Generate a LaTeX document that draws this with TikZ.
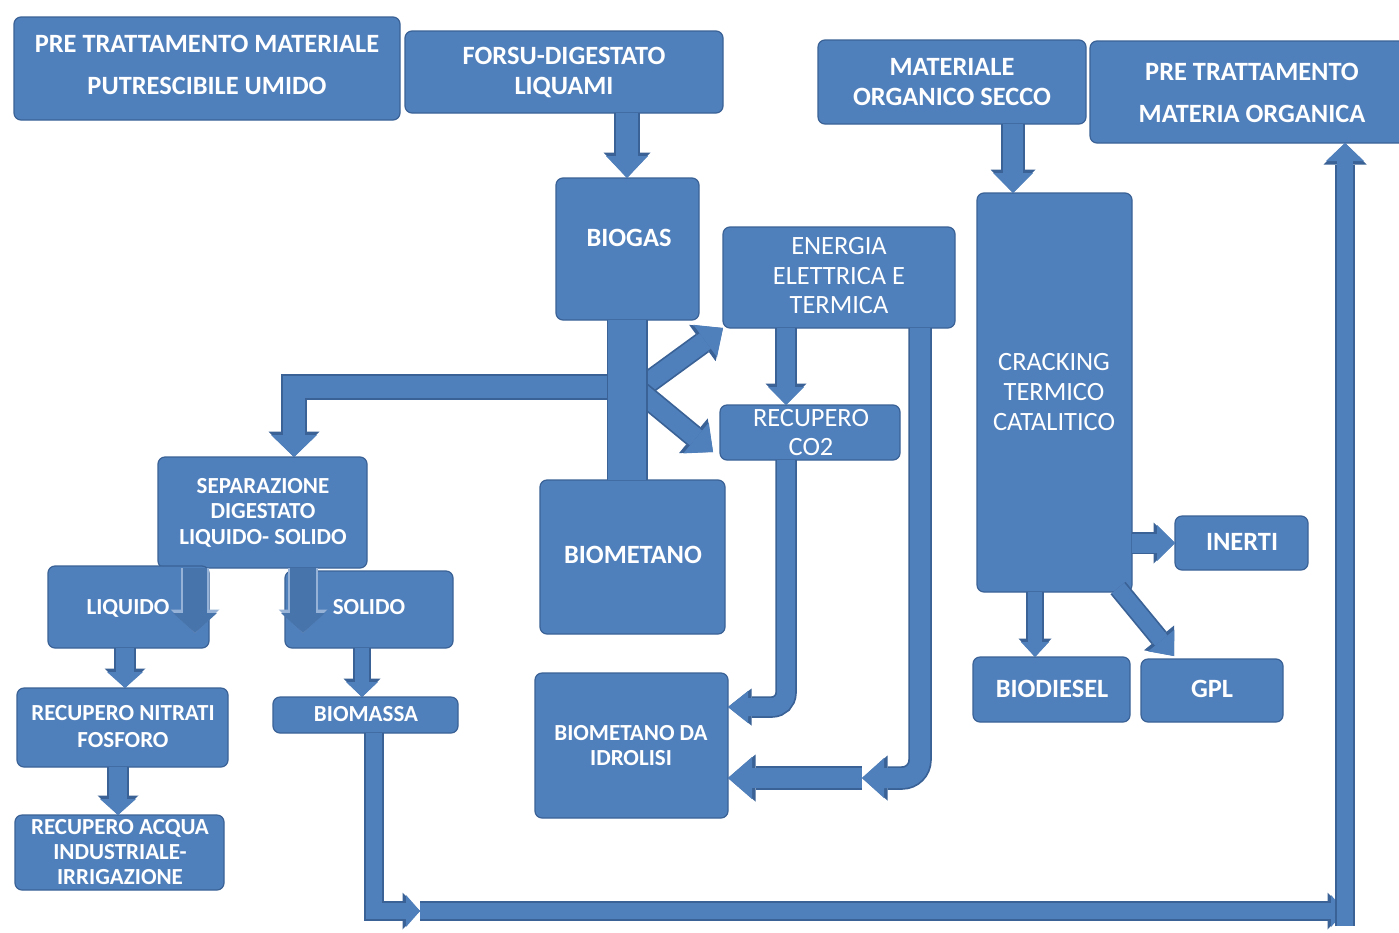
\documentclass[tikz,border=0pt]{standalone}
\usepackage{fontspec}
\setmainfont{Carlito}
\usetikzlibrary{arrows.meta}
\definecolor{bx}{RGB}{80,128,188}
\definecolor{bxd}{RGB}{58,98,150}
\definecolor{bxl}{RGB}{150,178,214}
\definecolor{bxm}{RGB}{72,116,172}
\def\bkOc{bxd}
\def\bkFc{bx}
\begin{document}
\begin{tikzpicture}[x=1pt,y=-1pt,
  box/.style={draw=bxd, line width=1.2pt, fill=bx, rounded corners=7pt, anchor=north west, inner sep=0pt, outer sep=0pt},
  lb/.style={text=white, inner sep=0pt, anchor=base, font=\fontsize{26.4}{30}\selectfont\bfseries, yshift=-8.5pt},
  lbs/.style={text=white, inner sep=0pt, anchor=base, font=\fontsize{23}{26}\selectfont\bfseries, yshift=-7.4pt},
  lr/.style={text=white, inner sep=0pt, anchor=base, font=\fontsize{26.4}{30}\selectfont, yshift=-8.5pt},
  bar/.style={line width=38pt, draw=bx, preaction={draw=bxd, line width=41pt}},
  overlay arrow/.code={\def\bkOc{bxl}\def\bkFc{bxm}},
  blk/.code n args={3}{%
    \pgfmathsetmacro\bkW{#1}%
    \pgfmathsetmacro\bkH{#2}%
    \pgfmathsetmacro\bkL{#3}%
    \pgfmathsetmacro\bkWo{#1+3.5}%
    \pgfmathsetmacro\bkHo{#2+5}%
    \pgfmathsetmacro\bkLo{#3+3.5}%
    \tikzset{line width=\bkW pt, draw=\bkFc, line join=miter,
      -{Triangle[length=\bkL pt, width=\bkH pt, line width=0pt, color=\bkFc]},
      preaction={draw=\bkOc, line width=\bkWo pt,
        -{Triangle[length=\bkLo pt, width=\bkHo pt, line width=0pt, color=\bkOc]}}}}
]
\useasboundingbox (0,0) rectangle (1399,932);
\fill[white] (0,0) rectangle (1399,932);

% ---------- boxes ----------
\node[box, minimum width=386pt, minimum height=103pt] (pre1) at (14,17) {};
\node[box, minimum width=318pt, minimum height=82pt] (forsu) at (405,31) {};
\node[box, minimum width=268pt, minimum height=84pt] (mat) at (818,40) {};
\node[box, minimum width=330pt, minimum height=102pt] (pre2) at (1090,41) {};
\node[box, minimum width=143pt, minimum height=142pt] (biogas) at (556,178) {};
\node[box, minimum width=232pt, minimum height=101pt] (energia) at (723,227) {};
\node[box, minimum width=180pt, minimum height=55pt] (co2) at (720,405) {};
\node[box, minimum width=209pt, minimum height=111pt] (sep) at (158,457) {};
\node[box, minimum width=185pt, minimum height=154pt] (biomet) at (540,480) {};
\node[box, minimum width=161pt, minimum height=82pt] (liq) at (48,566) {};
\node[box, minimum width=168pt, minimum height=77pt] (sol) at (285,571) {};
\node[box, minimum width=211pt, minimum height=79pt] (nitr) at (17,688) {};
\node[box, minimum width=185pt, minimum height=36pt] (biomassa) at (273,697) {};
\node[box, minimum width=209pt, minimum height=75pt] (acqua) at (15,815) {};
\node[box, minimum width=193pt, minimum height=145pt] (idro) at (535,673) {};
\node[box, minimum width=155pt, minimum height=399pt] (crack) at (977,193) {};
\node[box, minimum width=133pt, minimum height=54pt] (inerti) at (1175,516) {};
\node[box, minimum width=157pt, minimum height=65pt] (biodiesel) at (973,657) {};
\node[box, minimum width=142pt, minimum height=63pt] (gpl) at (1141,659) {};

% ---------- texts ----------
\node[lb] (t1a) at (207,44) {PRE TRATTAMENTO MATERIALE};
\node[lb] (t1b) at (207,86) {PUTRESCIBILE UMIDO};
\node[lb] (t2a) at (564,56) {FORSU-DIGESTATO};
\node[lb] (t2b) at (564,86) {LIQUAMI};
\node[lb] (t3a) at (952,67) {MATERIALE};
\node[lb] (t3b) at (952,97) {ORGANICO SECCO};
\node[lb] (t4a) at (1252,72) {PRE TRATTAMENTO};
\node[lb] (t4b) at (1252,114) {MATERIA ORGANICA};
\node[lb] (t5) at (629,238) {BIOGAS};
\node[lr] (t6a) at (839,246) {ENERGIA};
\node[lr] (t6b) at (839,276) {ELETTRICA E};
\node[lr] (t6c) at (839,305) {TERMICA};
\node[lr] (t7a) at (811,418) {RECUPERO};
\node[lr] (t7b) at (811,447) {CO2};
\node[lbs] (t8a) at (263,486) {SEPARAZIONE};
\node[lbs] (t8b) at (263,511) {DIGESTATO};
\node[lbs] (t8c) at (263,537) {LIQUIDO- SOLIDO};
\node[lb] (t9) at (633,555) {BIOMETANO};
\node[lbs] (t10) at (128,607) {LIQUIDO};
\node[lbs] (t11) at (369,607) {SOLIDO};
\node[lbs] (t12a) at (123,713) {RECUPERO NITRATI};
\node[lbs] (t12b) at (123,740) {FOSFORO};
\node[lbs] (t13) at (366,714) {BIOMASSA};
\node[lbs] (t14a) at (120,827) {RECUPERO ACQUA};
\node[lbs] (t14b) at (120,852) {INDUSTRIALE-};
\node[lbs] (t14c) at (120,877) {IRRIGAZIONE};
\node[lbs] (t15a) at (631,733) {BIOMETANO DA};
\node[lbs] (t15b) at (631,758) {IDROLISI};
\node[lr] (t16a) at (1054,362) {CRACKING};
\node[lr] (t16b) at (1054,392) {TERMICO};
\node[lr] (t16c) at (1054,422) {CATALITICO};
\node[lb] (t17) at (1242,542) {INERTI};
\node[lb] (t18) at (1052,689) {BIODIESEL};
\node[lb] (t19) at (1212,689) {GPL};

% ---------- helper coordinates ----------
\coordinate (xa) at (627,0);
\coordinate (xb) at (1013,0);
\coordinate (j) at (627,387);
\coordinate (xc) at (294,0);
\coordinate (j2) at (638,390);
\coordinate (cd) at (713,452);
\coordinate (xd) at (786,0);
\coordinate (ye) at (0,707);
\coordinate (xf) at (920,0);
\coordinate (yf) at (0,778);
\coordinate (mh) at (862,778);
\coordinate (xg) at (195,0);
\coordinate (xh) at (303,0);
\coordinate (yg) at (0,633);
\coordinate (xi) at (125,0);
\coordinate (xj) at (362,0);
\coordinate (xk) at (118,0);
\coordinate (yl) at (0,543);
\coordinate (xm) at (1035,0);
\coordinate (gs) at (1118,588);
\coordinate (ge) at (1174,656);
\coordinate (xn) at (374,0);
\coordinate (bm) at (420,911);
\coordinate (br) at (1345,911);
\coordinate (xo) at (1345,0);
\coordinate (bb) at (1345,926);

% ---------- connectors ----------
\draw[blk={22}{42}{22}] (forsu.south -| xa) -- (biogas.north -| xa);
\draw[blk={20}{40}{20}] (mat.south -| xb) -- (crack.north -| xb);

\draw[blk={22}{46}{22}] (j) -| (sep.north -| xc);
\draw[blk={19}{40}{22}] (j2) -- (energia.south west);
\draw[blk={19}{40}{22}] (j2) -- (cd);
\draw[bar] (biogas.south -| xa) -- (biomet.north -| xa);

\draw[blk={18}{36}{18}] (energia.south -| xd) -- (co2.north -| xd);
\draw[blk={18}{32}{20}, rounded corners=14pt] (co2.south -| xd) |- (idro.east |- ye);
\draw[blk={20}{40}{22}, rounded corners=18pt] (energia.south -| xf) |- (mh);
\draw[blk={20}{42}{24}] (mh) -- (idro.east |- yf);

\draw[overlay arrow, blk={24}{44}{20}] (sep.south -| xg) -- (xg |- yg);
\draw[overlay arrow, blk={26}{44}{20}] (sep.south -| xh) -- (xh |- yg);
\draw[blk={18}{36}{16}] (liq.south -| xi) -- (nitr.north -| xi);
\draw[blk={14}{32}{15}] (sol.south -| xj) -- (biomassa.north -| xj);
\draw[blk={18}{36}{16}] (nitr.south -| xk) -- (acqua.north -| xk);

\draw[blk={19}{36}{18}] (crack.east |- yl) -- (inerti.west |- yl);
\draw[blk={14}{28}{15}] (crack.south -| xm) -- (biodiesel.north -| xm);
\draw[blk={16}{34}{20}] (gs) -- (ge);

\draw[blk={16}{32}{14}] (biomassa.south -| xn) |- (bm);
\draw[blk={16}{32}{14}] (bm) -- (br);
\draw[blk={16}{38}{18}] (bb) -- (pre2.south -| xo);
\end{tikzpicture}
\end{document}
